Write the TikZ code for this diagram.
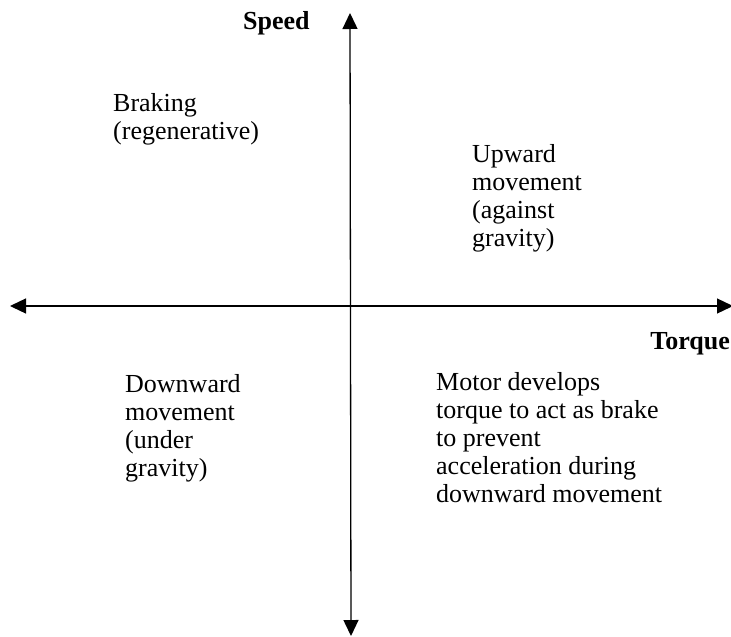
\documentclass[tikz,border=0pt]{standalone}
\usepackage{fontspec}
\setmainfont{Liberation Serif}
\usetikzlibrary{arrows.meta}
\begin{document}
\begin{tikzpicture}[x=1pt,y=-1pt,
  axis/.style={line width=1.3pt,{Triangle[length=16pt,width=15pt]}-{Triangle[length=16pt,width=15pt]}},
  lbl/.style={font=\fontsize{26}{28}\selectfont,align=left,inner sep=0pt,anchor=base west},
  axlbl/.style={font=\fontsize{26}{28}\selectfont\bfseries,inner sep=0pt}]
\useasboundingbox (0,0) rectangle (731,637);
\coordinate (left) at (10,306);
\coordinate (right) at (733,306);
\coordinate (top) at (350,13);
\coordinate (bottom) at (351,636);
\draw[axis] (left) -- (right);
\draw[axis] (bottom) -- (top);
\node[axlbl,anchor=base west] (speed) at (243,29) {Speed};
\node[axlbl,anchor=base east] (torque) at (730,349) {Torque};
\node[lbl] (q2) at (113,139) {Braking\\(regenerative)};
\node[lbl] (q1) at (472,246) {Upward\\movement\\(against\\gravity)};
\node[lbl] (q3) at (125,476) {Downward\\movement\\(under\\gravity)};
\node[lbl] (q4) at (436,502) {Motor develops\\torque to act as brake\\to prevent\\acceleration during\\downward movement};
\end{tikzpicture}
\end{document}
